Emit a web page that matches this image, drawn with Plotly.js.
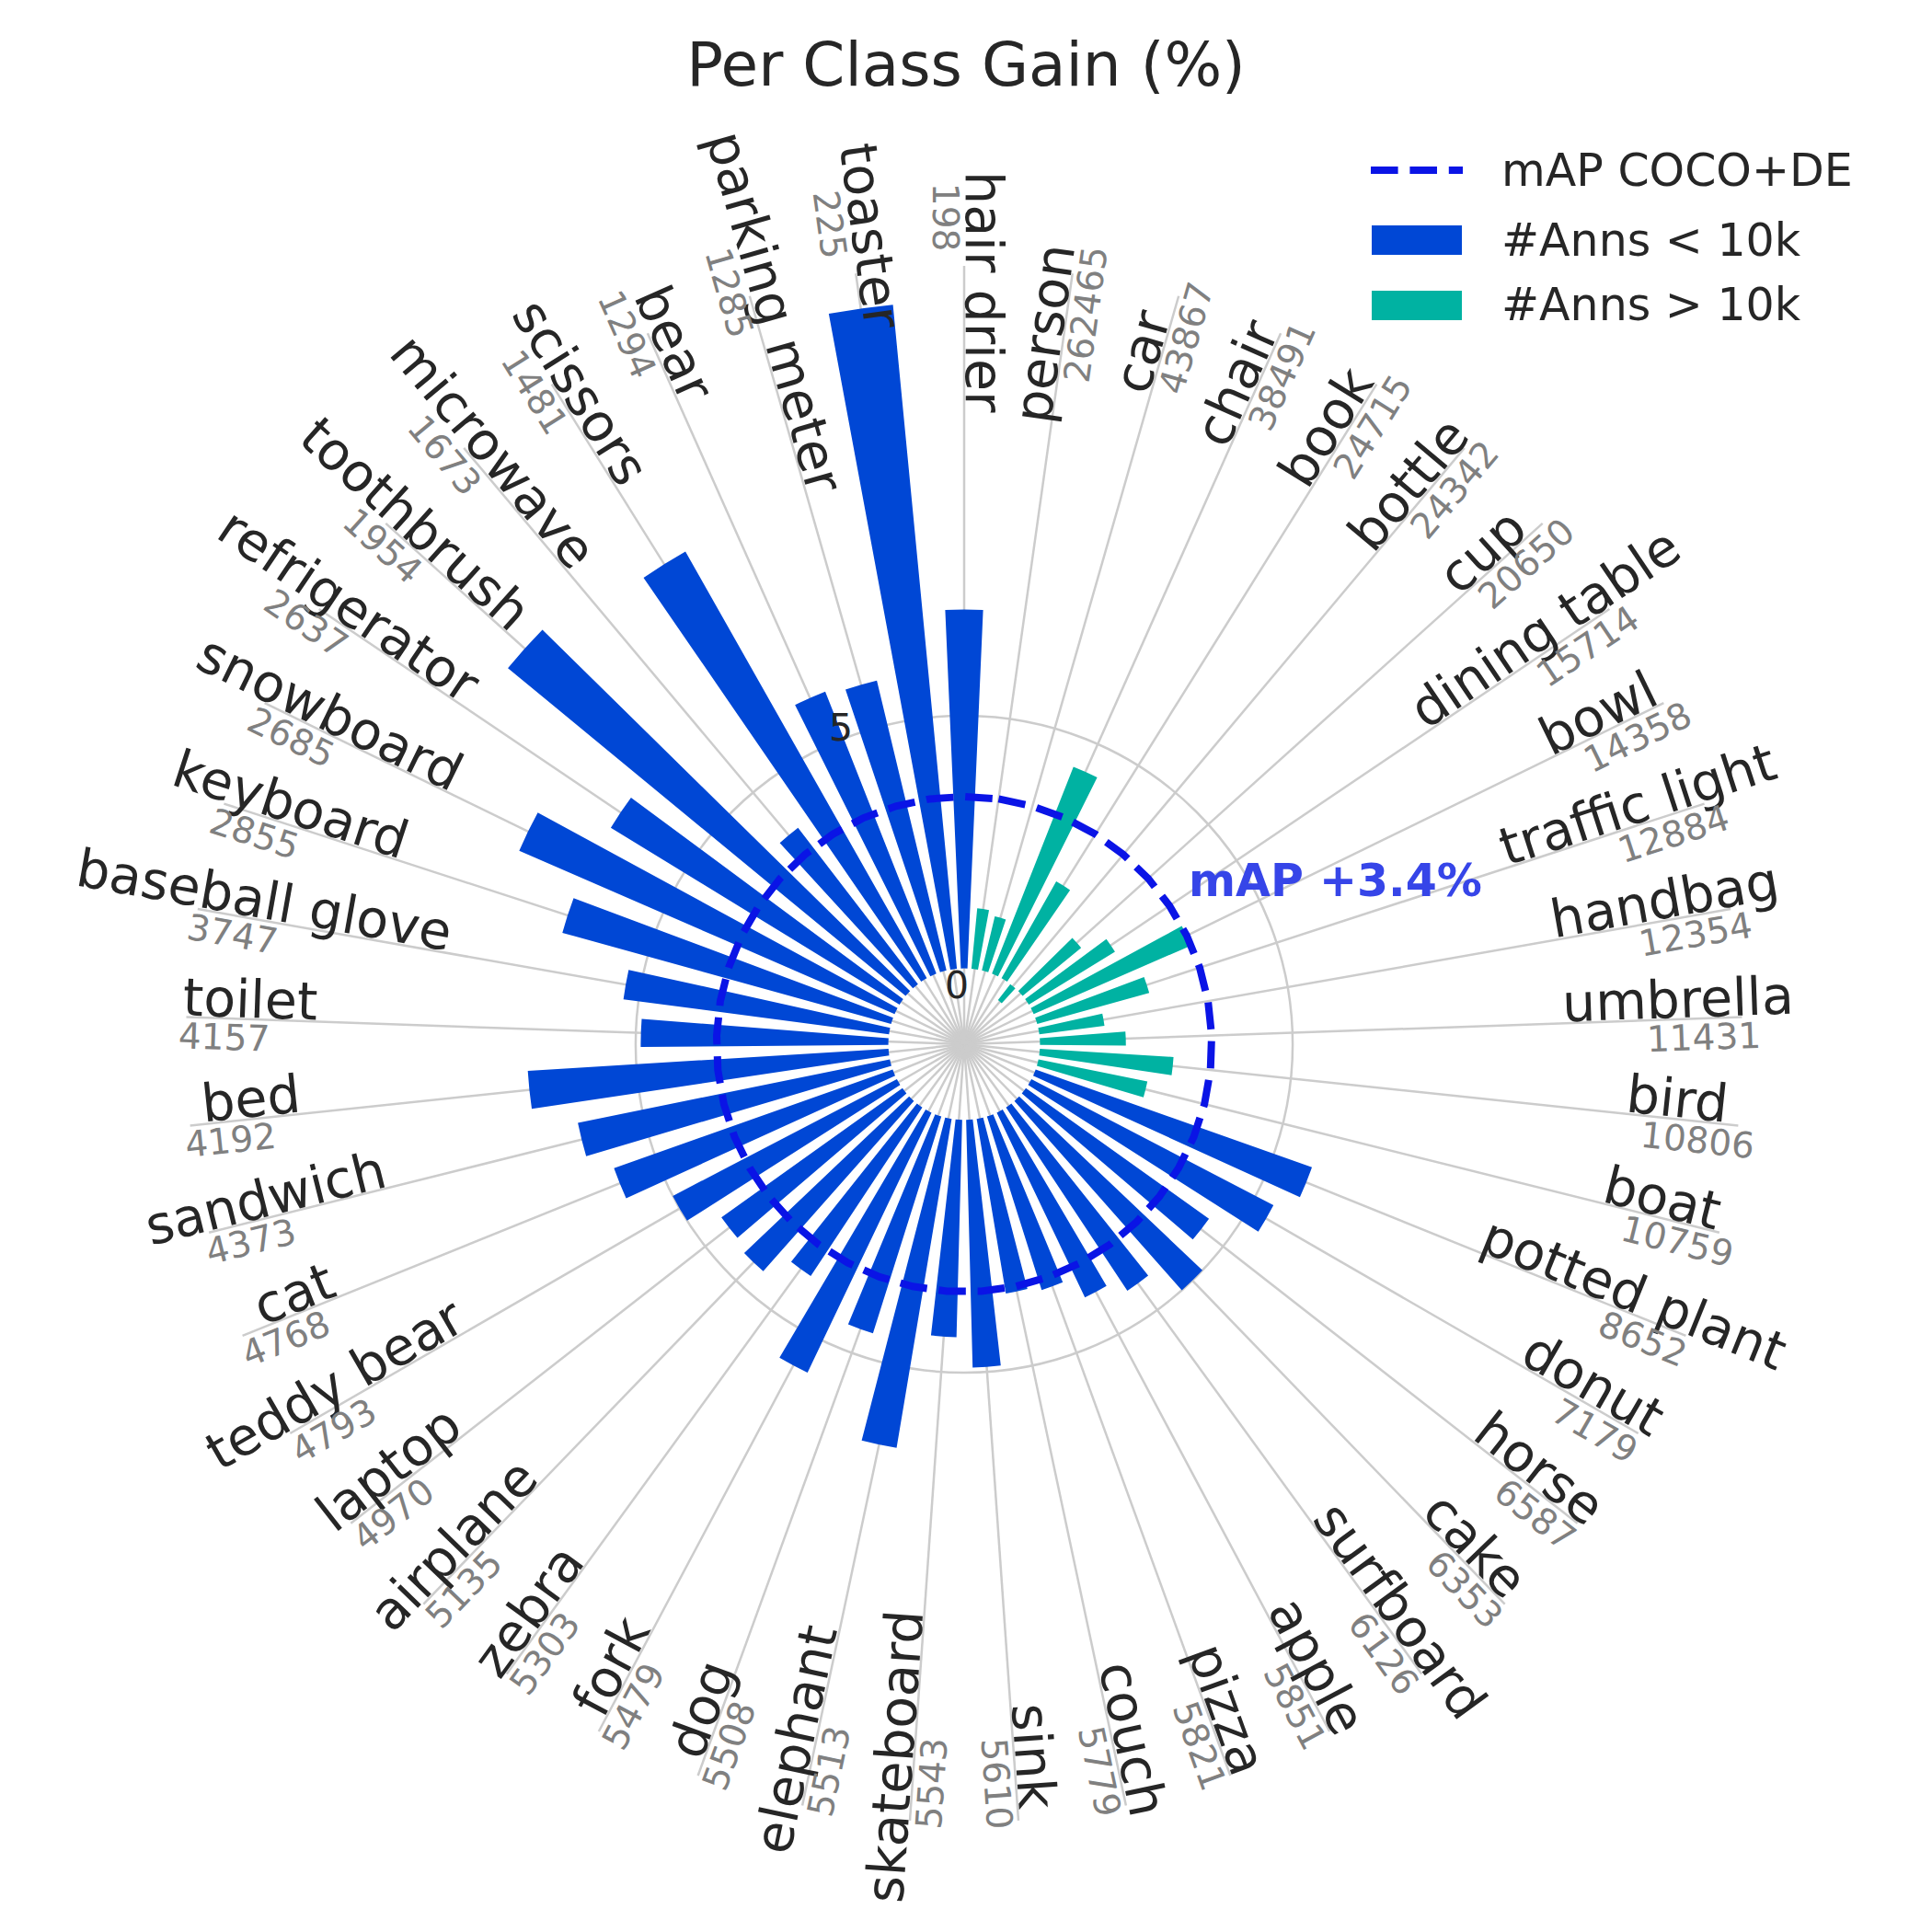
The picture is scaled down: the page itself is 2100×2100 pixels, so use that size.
<!DOCTYPE html>
<html>
<head>
<meta charset="utf-8">
<script src="https://cdn.plot.ly/plotly-3.0.1.min.js"></script>
<style>
  html, body { margin: 0; padding: 0; background: #fff; }
  #chart { width: 2100px; height: 2100px; }
</style>
</head>
<body>
<div id="chart"></div>
<script>
// classes ordered by number of annotations, clockwise from the top
const classes = ["person", "car", "chair", "book", "bottle", "cup", "dining table", "bowl",
    "traffic light", "handbag", "umbrella", "bird", "boat", "potted plant", "donut", "horse",
    "cake", "surfboard", "apple", "pizza", "couch", "sink", "skateboard", "elephant", "dog",
    "fork", "zebra", "airplane", "laptop", "teddy bear", "cat", "sandwich", "bed", "toilet",
    "baseball glove", "keyboard", "snowboard", "refrigerator", "toothbrush", "microwave",
    "scissors", "bear", "parking meter", "toaster", "hair drier"];
const annCounts = [262465, 43867, 38491, 24715, 24342, 20650, 15714, 14358, 12884, 12354,
    11431, 10806, 10759, 8652, 7179, 6587, 6353, 6126, 5851, 5821, 5779, 5610, 5543, 5513,
    5508, 5479, 5303, 5135, 4970, 4793, 4768, 4373, 4192, 4157, 3747, 2855, 2685, 2637,
    1954, 1673, 1481, 1294, 1285, 225, 198];
// per class gain (%)
const gains = [1.2, 1.1, 4.4, 2.2, -0.4, 1.5, 2.0, 3.4, 2.3, 1.3, 1.7, 2.65, 2.2,
    5.8, 5.4, 4.45, 5.0, 4.35, 4.05, 3.6, 3.5, 4.9, 4.3, 6.6, 4.5, 5.7, 4.0, 4.5, 4.4,
    5.0, 5.85, 6.3, 7.15, 4.9, 5.3, 6.75, 8.1, 6.7, 10.2, 3.9, 9.7, 6.0, 5.9, 13.2, 7.1];
const mapGain = 3.4;
const splitAt = 10000;

const W = 2100, H = 2100;
const CX = 1048, CY = 1135, RAD = 846;   // polar centre and outer radius (px)
const R_MIN = -1.5, R_MAX = 13.9;
const FONT = "DejaVu Sans";
const DARK = "#262626";

const step = 360 / classes.length;
const thetas = classes.map((c, i) => step * (i + 1));

const pick = (arr, keep) => arr.filter((v, i) => keep(annCounts[i]));
const small = (n) => n < splitAt;
const large = (n) => n >= splitAt;

const traces = [
    {
        type: "barpolar", name: "#Anns < 10k", r: pick(gains, small), theta: pick(thetas, small),
        width: 5, marker: { color: "#0047d5", line: { width: 0 } }, showlegend: false
    },
    {
        type: "barpolar", name: "#Anns > 10k", r: pick(gains, large), theta: pick(thetas, large),
        width: 5, marker: { color: "#00b2a2", line: { width: 0 } }, showlegend: false
    },
    {
        type: "scatterpolar", mode: "lines", name: "mAP COCO+DE",
        r: thetas.concat([thetas[0]]).map(() => mapGain), theta: thetas.concat([thetas[0]]),
        line: { color: "#0a14e6", width: 8, dash: "29.6px,12.8px" }, showlegend: false
    }
];

// paper coords from pixel coords
const px = (x) => x / W;
const py = (y) => 1 - y / H;

// labels pushed outward by hand where they crowd (label px, count px)
const nudge = {
    "hair drier": [40, 95], "toaster": [107, 99], "parking meter": [45, 52], "bear": [47, 50],
    "scissors": [45, 44], "microwave": [45, 50], "toothbrush": [45, 28], "refrigerator": [44, 45]
};

const LABEL_R = 777, COUNT_R = 804;
const LABEL_SIZE = 57, COUNT_SIZE = 39;
const annotations = [];

classes.forEach((name, i) => {
    const th = thetas[i] * Math.PI / 180;
    const dir = [Math.sin(th), -Math.cos(th)];
    const ang = thetas[i] < 180 ? thetas[i] - 90 : thetas[i] - 270;
    const a = ang * Math.PI / 180;
    const up = [Math.sin(a), -Math.cos(a)];
    const [nl, nc] = nudge[name] || [0, 0];

    const offL = 2 + 0.35 * LABEL_SIZE;
    const rl = LABEL_R + nl;
    annotations.push({
        x: px(CX + rl * dir[0] + offL * up[0]), y: py(CY + rl * dir[1] + offL * up[1]),
        xref: "paper", yref: "paper", xanchor: "center", yanchor: "middle",
        text: name, textangle: ang, showarrow: false,
        font: { family: FONT, size: LABEL_SIZE, color: DARK }
    });

    const offC = 6 + 0.38 * COUNT_SIZE;
    const rc = COUNT_R + nc;
    annotations.push({
        x: px(CX + rc * dir[0] - offC * up[0]), y: py(CY + rc * dir[1] - offC * up[1]),
        xref: "paper", yref: "paper", xanchor: "center", yanchor: "middle",
        text: String(annCounts[i]), textangle: ang, showarrow: false,
        font: { family: FONT, size: COUNT_SIZE, color: "#808080" }
    });
});

// radial tick labels
annotations.push(
    { x: px(1040), y: py(1071), xref: "paper", yref: "paper", text: "0", showarrow: false,
      font: { family: FONT, size: 41, color: DARK } },
    { x: px(914), y: py(791), xref: "paper", yref: "paper", text: "5", showarrow: false,
      font: { family: FONT, size: 41, color: DARK } }
);

// mean gain note
annotations.push({
    x: px(1290), y: py(957), xref: "paper", yref: "paper", xanchor: "left", yanchor: "middle",
    text: "<b>mAP +" + mapGain + "%</b>", showarrow: false,
    font: { family: FONT, size: 49, color: "#3645e8" }
});

// legend drawn by hand to get the wide swatches
const legendRows = [
    { text: "mAP COCO+DE", y: 185 },
    { text: "#Anns < 10k", y: 261 },
    { text: "#Anns > 10k", y: 332 }
];
legendRows.forEach((row) => {
    annotations.push({
        x: px(1630), y: py(row.y), xref: "paper", yref: "paper", xanchor: "left", yanchor: "middle",
        text: row.text, showarrow: false, font: { family: FONT, size: 49, color: DARK }
    });
});
const shapes = [
    { type: "line", xref: "paper", yref: "paper", x0: px(1490), x1: px(1590), y0: py(185), y1: py(185),
      line: { color: "#0a14e6", width: 8, dash: "29.6px,12.8px" } },
    { type: "rect", xref: "paper", yref: "paper", x0: px(1491), x1: px(1589), y0: py(245), y1: py(277),
      fillcolor: "#0047d5", line: { width: 0 } },
    { type: "rect", xref: "paper", yref: "paper", x0: px(1491), x1: px(1589), y0: py(316), y1: py(348),
      fillcolor: "#00b2a2", line: { width: 0 } }
];

const layout = {
    width: W, height: H,
    margin: { l: 0, r: 0, t: 0, b: 0 },
    paper_bgcolor: "#ffffff",
    showlegend: false,
    title: {
        text: "Per Class Gain (%)", x: 0.5, xref: "paper", y: py(70), yref: "paper",
        xanchor: "center", yanchor: "middle", font: { family: FONT, size: 66, color: DARK }
    },
    polar: {
        domain: { x: [px(CX - RAD), px(CX + RAD)], y: [py(CY + RAD), py(CY - RAD)] },
        bgcolor: "rgba(0,0,0,0)",
        radialaxis: {
            range: [R_MIN, R_MAX], tickvals: [5], showticklabels: false, ticks: "",
            showgrid: true, gridcolor: "#cccccc", gridwidth: 2.5, showline: false,
            layer: "below traces"
        },
        angularaxis: {
            rotation: 90, direction: "clockwise", tickvals: thetas, showticklabels: false,
            ticks: "", showgrid: true, gridcolor: "#cccccc", gridwidth: 2.5, showline: false,
            layer: "below traces"
        }
    },
    annotations: annotations,
    shapes: shapes,
    font: { family: FONT, color: DARK }
};

Plotly.newPlot("chart", traces, layout, { staticPlot: true });
</script>
</body>
</html>
